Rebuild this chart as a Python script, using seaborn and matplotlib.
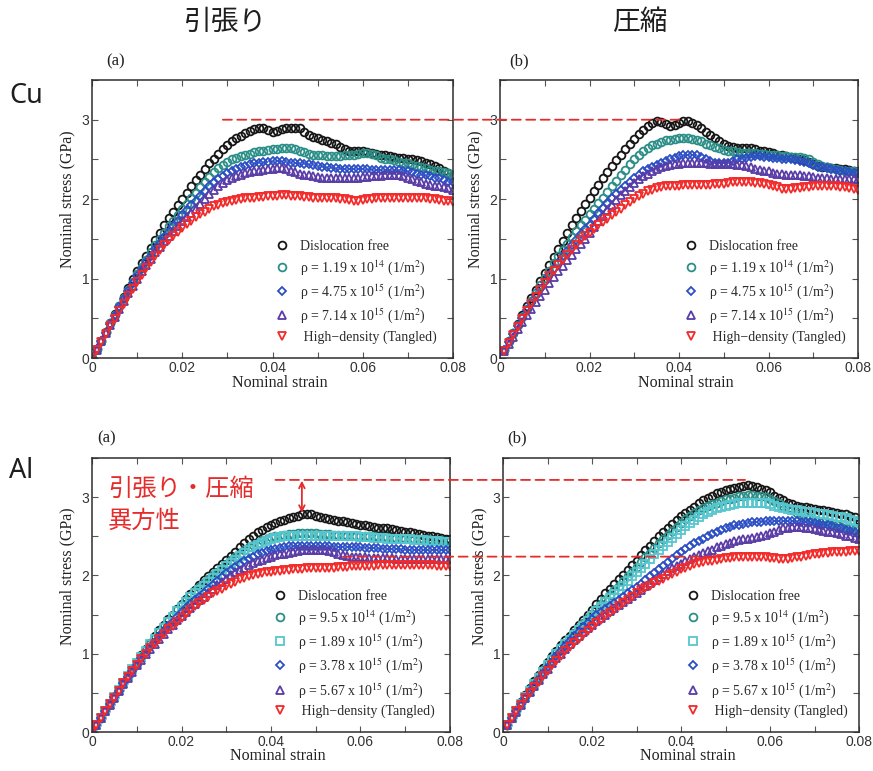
import numpy as np
import matplotlib
matplotlib.use("Agg")
import matplotlib.pyplot as plt
from matplotlib.patches import ConnectionPatch
from matplotlib.ticker import FixedLocator, MultipleLocator
import seaborn as sns

# ---------------------------------------------------------------------------
# Strain grids (tension curves start at the origin, compression at 0.001)
# ---------------------------------------------------------------------------
strain_tension = np.round(np.arange(81) * 0.001, 3)
strain_compression = np.round(np.arange(1, 81) * 0.001, 3)

# ---------------------------------------------------------------------------
# Cu, tension  (nominal stress in GPa)
# ---------------------------------------------------------------------------
cu_t_free = [0.00, 0.11, 0.22, 0.33, 0.44, 0.55, 0.66, 0.77, 0.88, 0.99,
             1.09, 1.19, 1.29, 1.39, 1.49, 1.58, 1.67, 1.76, 1.84, 1.92,
             2.00, 2.08, 2.16, 2.24, 2.31, 2.38, 2.45, 2.51, 2.57, 2.63,
             2.68, 2.73, 2.77, 2.80, 2.83, 2.86, 2.88, 2.89, 2.89, 2.87,
             2.85, 2.86, 2.88, 2.89, 2.90, 2.90, 2.89, 2.85, 2.81, 2.78,
             2.77, 2.75, 2.73, 2.71, 2.69, 2.66, 2.63, 2.61, 2.60, 2.60,
             2.60, 2.59, 2.58, 2.57, 2.56, 2.55, 2.54, 2.53, 2.52, 2.52,
             2.51, 2.50, 2.49, 2.48, 2.46, 2.44, 2.42, 2.39, 2.36, 2.33,
             2.31]
cu_t_119e14 = [0.00, 0.11, 0.22, 0.33, 0.44, 0.54, 0.65, 0.75, 0.86, 0.96,
               1.06, 1.15, 1.24, 1.33, 1.42, 1.50, 1.58, 1.66, 1.73, 1.80,
               1.87, 1.94, 2.01, 2.08, 2.15, 2.22, 2.28, 2.34, 2.39, 2.43,
               2.47, 2.50, 2.52, 2.54, 2.56, 2.57, 2.59, 2.60, 2.61, 2.62,
               2.63, 2.63, 2.64, 2.64, 2.64, 2.63, 2.61, 2.59, 2.57, 2.56,
               2.55, 2.55, 2.54, 2.54, 2.54, 2.54, 2.55, 2.55, 2.56, 2.57,
               2.58, 2.58, 2.57, 2.55, 2.52, 2.51, 2.50, 2.49, 2.47, 2.46,
               2.45, 2.43, 2.42, 2.40, 2.39, 2.37, 2.36, 2.35, 2.34, 2.33,
               2.31]
cu_t_475e15 = [0.00, 0.11, 0.22, 0.32, 0.43, 0.53, 0.64, 0.74, 0.84, 0.94,
               1.03, 1.12, 1.21, 1.29, 1.37, 1.45, 1.52, 1.59, 1.66, 1.73,
               1.80, 1.86, 1.92, 1.98, 2.04, 2.10, 2.16, 2.21, 2.25, 2.29,
               2.33, 2.36, 2.38, 2.40, 2.42, 2.44, 2.45, 2.46, 2.47, 2.47,
               2.48, 2.48, 2.48, 2.47, 2.46, 2.45, 2.45, 2.44, 2.44, 2.43,
               2.42, 2.41, 2.40, 2.39, 2.39, 2.38, 2.38, 2.38, 2.38, 2.38,
               2.38, 2.38, 2.37, 2.37, 2.37, 2.37, 2.37, 2.37, 2.37, 2.36,
               2.35, 2.34, 2.32, 2.31, 2.30, 2.29, 2.27, 2.26, 2.24, 2.22,
               2.21]
cu_t_714e15 = [0.00, 0.10, 0.21, 0.31, 0.42, 0.52, 0.62, 0.72, 0.82, 0.91,
               1.00, 1.09, 1.17, 1.25, 1.33, 1.40, 1.47, 1.54, 1.60, 1.66,
               1.72, 1.78, 1.83, 1.88, 1.94, 2.00, 2.06, 2.11, 2.16, 2.20,
               2.24, 2.27, 2.29, 2.31, 2.33, 2.34, 2.35, 2.36, 2.37, 2.38,
               2.38, 2.39, 2.39, 2.38, 2.36, 2.34, 2.32, 2.31, 2.30, 2.29,
               2.28, 2.27, 2.26, 2.26, 2.26, 2.26, 2.26, 2.26, 2.27, 2.27,
               2.28, 2.28, 2.29, 2.29, 2.29, 2.30, 2.30, 2.31, 2.31, 2.29,
               2.27, 2.25, 2.23, 2.21, 2.19, 2.18, 2.17, 2.16, 2.15, 2.14,
               2.11]
cu_t_tangled = [0.00, 0.10, 0.20, 0.30, 0.40, 0.49, 0.59, 0.68, 0.78, 0.87,
                0.96, 1.05, 1.13, 1.21, 1.29, 1.36, 1.42, 1.48, 1.54, 1.59,
                1.64, 1.69, 1.73, 1.77, 1.81, 1.84, 1.88, 1.91, 1.93, 1.95,
                1.97, 1.98, 1.99, 2.00, 2.01, 2.02, 2.02, 2.03, 2.03, 2.04,
                2.04, 2.04, 2.05, 2.05, 2.04, 2.04, 2.04, 2.03, 2.03, 2.02,
                2.02, 2.02, 2.02, 2.01, 2.01, 2.00, 2.00, 1.99, 1.98, 1.98,
                1.99, 2.00, 2.00, 2.01, 2.01, 2.01, 2.01, 2.01, 2.02, 2.02,
                2.02, 2.02, 2.02, 2.01, 2.01, 2.00, 2.00, 1.99, 1.98, 1.98,
                1.97]

# ---------------------------------------------------------------------------
# Cu, compression
# ---------------------------------------------------------------------------
cu_c_free = [0.10, 0.21, 0.32, 0.43, 0.54, 0.65, 0.76, 0.86, 0.97, 1.07,
             1.17, 1.27, 1.37, 1.47, 1.57, 1.67, 1.76, 1.85, 1.94, 2.02,
             2.10, 2.18, 2.26, 2.34, 2.42, 2.49, 2.56, 2.63, 2.70, 2.76,
             2.82, 2.87, 2.92, 2.96, 2.98, 2.97, 2.94, 2.92, 2.93, 2.96,
             2.98, 2.98, 2.96, 2.93, 2.89, 2.85, 2.81, 2.77, 2.73, 2.70,
             2.67, 2.66, 2.65, 2.65, 2.65, 2.64, 2.63, 2.61, 2.60, 2.59,
             2.58, 2.56, 2.55, 2.54, 2.53, 2.52, 2.51, 2.49, 2.47, 2.44,
             2.42, 2.40, 2.40, 2.39, 2.39, 2.38, 2.38, 2.37, 2.36, 2.35]
cu_c_119e14 = [0.10, 0.21, 0.31, 0.42, 0.52, 0.62, 0.72, 0.82, 0.92, 1.01,
               1.10, 1.19, 1.28, 1.36, 1.44, 1.52, 1.60, 1.67, 1.74, 1.81,
               1.88, 1.95, 2.02, 2.09, 2.16, 2.23, 2.30, 2.37, 2.44, 2.50,
               2.56, 2.61, 2.65, 2.68, 2.70, 2.72, 2.74, 2.75, 2.76, 2.77,
               2.77, 2.77, 2.76, 2.75, 2.73, 2.70, 2.68, 2.66, 2.64, 2.62,
               2.61, 2.60, 2.59, 2.58, 2.58, 2.58, 2.58, 2.57, 2.57, 2.56,
               2.55, 2.55, 2.54, 2.54, 2.53, 2.53, 2.53, 2.52, 2.50, 2.47,
               2.44, 2.42, 2.40, 2.39, 2.38, 2.37, 2.36, 2.36, 2.35, 2.34]
cu_c_475e15 = [0.10, 0.20, 0.30, 0.40, 0.50, 0.60, 0.69, 0.78, 0.87, 0.96,
               1.04, 1.12, 1.20, 1.28, 1.35, 1.42, 1.49, 1.56, 1.62, 1.68,
               1.75, 1.82, 1.89, 1.95, 2.01, 2.07, 2.12, 2.17, 2.22, 2.27,
               2.31, 2.35, 2.38, 2.41, 2.43, 2.46, 2.48, 2.50, 2.52, 2.54,
               2.55, 2.56, 2.56, 2.55, 2.53, 2.50, 2.48, 2.46, 2.45, 2.45,
               2.46, 2.48, 2.50, 2.51, 2.52, 2.53, 2.54, 2.54, 2.53, 2.53,
               2.52, 2.52, 2.51, 2.50, 2.50, 2.49, 2.48, 2.47, 2.45, 2.43,
               2.41, 2.40, 2.39, 2.38, 2.37, 2.36, 2.35, 2.34, 2.33, 2.33]
cu_c_714e15 = [0.09, 0.18, 0.27, 0.36, 0.45, 0.54, 0.62, 0.70, 0.78, 0.86,
               0.94, 1.02, 1.09, 1.16, 1.23, 1.30, 1.37, 1.43, 1.50, 1.57,
               1.65, 1.72, 1.79, 1.86, 1.93, 1.99, 2.05, 2.10, 2.15, 2.20,
               2.25, 2.29, 2.32, 2.35, 2.38, 2.40, 2.42, 2.43, 2.44, 2.44,
               2.45, 2.45, 2.45, 2.45, 2.45, 2.45, 2.44, 2.44, 2.44, 2.44,
               2.44, 2.44, 2.43, 2.43, 2.42, 2.40, 2.38, 2.37, 2.36, 2.35,
               2.33, 2.32, 2.32, 2.31, 2.31, 2.30, 2.30, 2.29, 2.29, 2.28,
               2.27, 2.26, 2.26, 2.25, 2.25, 2.25, 2.25, 2.25, 2.25, 2.25]
cu_c_tangled = [0.09, 0.19, 0.29, 0.39, 0.49, 0.59, 0.68, 0.77, 0.86, 0.95,
                1.03, 1.10, 1.17, 1.24, 1.30, 1.36, 1.42, 1.48, 1.53, 1.58,
                1.63, 1.67, 1.71, 1.75, 1.80, 1.84, 1.88, 1.92, 1.96, 2.00,
                2.04, 2.07, 2.10, 2.12, 2.14, 2.15, 2.16, 2.17, 2.17, 2.17,
                2.18, 2.18, 2.18, 2.18, 2.18, 2.18, 2.18, 2.19, 2.19, 2.19,
                2.20, 2.21, 2.22, 2.22, 2.22, 2.21, 2.20, 2.20, 2.19, 2.18,
                2.16, 2.15, 2.13, 2.13, 2.13, 2.14, 2.14, 2.15, 2.15, 2.16,
                2.16, 2.17, 2.17, 2.16, 2.16, 2.15, 2.15, 2.14, 2.13, 2.11]

# ---------------------------------------------------------------------------
# Al, tension
# ---------------------------------------------------------------------------
al_t_free = [0.00, 0.09, 0.18, 0.27, 0.36, 0.45, 0.54, 0.63, 0.72, 0.81,
             0.90, 0.98, 1.06, 1.14, 1.22, 1.30, 1.37, 1.44, 1.50, 1.57,
             1.64, 1.70, 1.76, 1.82, 1.88, 1.94, 1.99, 2.05, 2.10, 2.15,
             2.20, 2.25, 2.30, 2.36, 2.41, 2.46, 2.50, 2.55, 2.58, 2.62,
             2.65, 2.67, 2.69, 2.71, 2.73, 2.75, 2.76, 2.78, 2.79, 2.78,
             2.76, 2.74, 2.73, 2.72, 2.71, 2.70, 2.69, 2.68, 2.67, 2.66,
             2.65, 2.64, 2.63, 2.62, 2.61, 2.61, 2.60, 2.59, 2.58, 2.57,
             2.56, 2.55, 2.54, 2.53, 2.52, 2.51, 2.50, 2.49, 2.48, 2.47,
             2.46]
al_t_95e14 = [0.00, 0.09, 0.18, 0.27, 0.36, 0.45, 0.54, 0.63, 0.72, 0.81,
              0.89, 0.97, 1.05, 1.13, 1.20, 1.28, 1.35, 1.42, 1.49, 1.56,
              1.62, 1.68, 1.74, 1.80, 1.85, 1.90, 1.95, 2.00, 2.05, 2.10,
              2.15, 2.20, 2.24, 2.28, 2.32, 2.36, 2.39, 2.42, 2.45, 2.47,
              2.49, 2.50, 2.51, 2.52, 2.53, 2.53, 2.54, 2.54, 2.54, 2.54,
              2.54, 2.53, 2.53, 2.53, 2.52, 2.52, 2.52, 2.51, 2.51, 2.51,
              2.50, 2.50, 2.50, 2.50, 2.49, 2.49, 2.49, 2.48, 2.48, 2.48,
              2.47, 2.47, 2.47, 2.46, 2.46, 2.46, 2.45, 2.45, 2.45, 2.44,
              2.44]
al_t_189e15 = [0.00, 0.09, 0.18, 0.27, 0.36, 0.45, 0.54, 0.63, 0.72, 0.80,
               0.88, 0.96, 1.04, 1.12, 1.19, 1.26, 1.33, 1.40, 1.47, 1.54,
               1.60, 1.66, 1.72, 1.77, 1.82, 1.87, 1.92, 1.97, 2.02, 2.07,
               2.12, 2.16, 2.20, 2.25, 2.29, 2.33, 2.36, 2.39, 2.42, 2.44,
               2.46, 2.48, 2.49, 2.50, 2.51, 2.51, 2.51, 2.51, 2.51, 2.51,
               2.51, 2.51, 2.51, 2.51, 2.51, 2.51, 2.50, 2.50, 2.50, 2.50,
               2.49, 2.49, 2.49, 2.48, 2.48, 2.48, 2.47, 2.47, 2.47, 2.46,
               2.46, 2.46, 2.45, 2.45, 2.45, 2.44, 2.44, 2.44, 2.43, 2.43,
               2.43]
al_t_378e15 = [0.00, 0.09, 0.18, 0.27, 0.36, 0.45, 0.53, 0.62, 0.70, 0.78,
               0.86, 0.94, 1.01, 1.08, 1.15, 1.22, 1.29, 1.35, 1.41, 1.47,
               1.53, 1.58, 1.63, 1.68, 1.73, 1.78, 1.83, 1.88, 1.93, 1.98,
               2.03, 2.07, 2.11, 2.15, 2.18, 2.21, 2.24, 2.27, 2.29, 2.31,
               2.33, 2.34, 2.35, 2.36, 2.37, 2.37, 2.37, 2.37, 2.37, 2.37,
               2.37, 2.37, 2.37, 2.37, 2.36, 2.36, 2.36, 2.36, 2.36, 2.36,
               2.36, 2.35, 2.35, 2.35, 2.35, 2.34, 2.34, 2.34, 2.34, 2.34,
               2.33, 2.33, 2.33, 2.33, 2.33, 2.33, 2.32, 2.32, 2.32, 2.32,
               2.32]
al_t_567e15 = [0.00, 0.09, 0.18, 0.27, 0.35, 0.44, 0.52, 0.61, 0.69, 0.77,
               0.85, 0.92, 0.99, 1.06, 1.13, 1.19, 1.25, 1.31, 1.37, 1.43,
               1.48, 1.53, 1.58, 1.63, 1.68, 1.73, 1.78, 1.83, 1.88, 1.92,
               1.96, 2.00, 2.04, 2.07, 2.10, 2.13, 2.16, 2.18, 2.20, 2.22,
               2.24, 2.26, 2.27, 2.28, 2.29, 2.30, 2.31, 2.32, 2.32, 2.33,
               2.33, 2.33, 2.32, 2.31, 2.30, 2.28, 2.26, 2.25, 2.24, 2.23,
               2.23, 2.23, 2.22, 2.22, 2.22, 2.22, 2.22, 2.22, 2.21, 2.21,
               2.21, 2.21, 2.21, 2.21, 2.21, 2.21, 2.21, 2.21, 2.21, 2.21,
               2.21]
al_t_tangled = [0.00, 0.09, 0.18, 0.27, 0.36, 0.44, 0.53, 0.62, 0.70, 0.78,
                0.86, 0.93, 1.00, 1.07, 1.13, 1.19, 1.25, 1.31, 1.36, 1.41,
                1.46, 1.51, 1.56, 1.61, 1.65, 1.69, 1.73, 1.77, 1.80, 1.83,
                1.86, 1.89, 1.92, 1.95, 1.97, 1.99, 2.01, 2.02, 2.03, 2.04,
                2.05, 2.06, 2.06, 2.07, 2.07, 2.08, 2.08, 2.08, 2.09, 2.09,
                2.09, 2.10, 2.10, 2.10, 2.10, 2.11, 2.11, 2.11, 2.12, 2.12,
                2.12, 2.12, 2.12, 2.12, 2.13, 2.13, 2.13, 2.13, 2.13, 2.13,
                2.13, 2.13, 2.13, 2.13, 2.13, 2.13, 2.13, 2.12, 2.12, 2.12,
                2.12]

# ---------------------------------------------------------------------------
# Al, compression
# ---------------------------------------------------------------------------
al_c_free = [0.09, 0.19, 0.28, 0.38, 0.47, 0.56, 0.65, 0.73, 0.82, 0.90,
             0.97, 1.04, 1.11, 1.17, 1.23, 1.30, 1.37, 1.43, 1.50, 1.56,
             1.63, 1.70, 1.77, 1.83, 1.89, 1.95, 2.01, 2.07, 2.13, 2.19,
             2.26, 2.32, 2.38, 2.44, 2.50, 2.56, 2.61, 2.66, 2.71, 2.76,
             2.80, 2.84, 2.88, 2.92, 2.96, 2.99, 3.02, 3.05, 3.07, 3.09,
             3.11, 3.12, 3.13, 3.14, 3.15, 3.14, 3.13, 3.11, 3.09, 3.06,
             3.02, 2.99, 2.96, 2.93, 2.91, 2.89, 2.88, 2.87, 2.86, 2.85,
             2.84, 2.83, 2.82, 2.81, 2.80, 2.79, 2.78, 2.76, 2.74, 2.71]
al_c_95e14 = [0.09, 0.18, 0.27, 0.37, 0.46, 0.55, 0.63, 0.71, 0.79, 0.87,
              0.94, 1.01, 1.08, 1.14, 1.20, 1.26, 1.33, 1.39, 1.45, 1.51,
              1.57, 1.63, 1.69, 1.75, 1.81, 1.87, 1.93, 1.99, 2.05, 2.11,
              2.17, 2.23, 2.29, 2.35, 2.41, 2.47, 2.52, 2.57, 2.62, 2.67,
              2.72, 2.76, 2.80, 2.83, 2.86, 2.89, 2.91, 2.93, 2.95, 2.97,
              2.98, 2.99, 3.01, 3.02, 3.03, 3.03, 3.02, 3.01, 3.00, 2.98,
              2.95, 2.92, 2.89, 2.86, 2.83, 2.80, 2.77, 2.75, 2.73, 2.71,
              2.69, 2.68, 2.66, 2.65, 2.64, 2.62, 2.61, 2.60, 2.59, 2.58]
al_c_189e15 = [0.09, 0.18, 0.27, 0.36, 0.45, 0.53, 0.61, 0.69, 0.77, 0.85,
               0.92, 0.99, 1.06, 1.12, 1.18, 1.24, 1.30, 1.36, 1.42, 1.48,
               1.54, 1.60, 1.66, 1.71, 1.76, 1.81, 1.87, 1.93, 1.99, 2.05,
               2.10, 2.15, 2.21, 2.27, 2.33, 2.38, 2.43, 2.48, 2.53, 2.58,
               2.63, 2.67, 2.71, 2.75, 2.78, 2.81, 2.84, 2.86, 2.88, 2.89,
               2.90, 2.91, 2.92, 2.92, 2.93, 2.93, 2.93, 2.93, 2.93, 2.91,
               2.89, 2.87, 2.86, 2.85, 2.84, 2.83, 2.82, 2.81, 2.81, 2.80,
               2.79, 2.78, 2.77, 2.76, 2.75, 2.74, 2.73, 2.71, 2.69, 2.67]
al_c_378e15 = [0.09, 0.18, 0.27, 0.36, 0.44, 0.52, 0.60, 0.68, 0.76, 0.83,
               0.90, 0.97, 1.04, 1.10, 1.16, 1.22, 1.28, 1.34, 1.39, 1.44,
               1.49, 1.53, 1.57, 1.61, 1.65, 1.69, 1.73, 1.77, 1.81, 1.85,
               1.89, 1.94, 1.99, 2.03, 2.08, 2.12, 2.17, 2.21, 2.26, 2.30,
               2.34, 2.38, 2.41, 2.44, 2.47, 2.50, 2.53, 2.56, 2.58, 2.60,
               2.62, 2.64, 2.65, 2.66, 2.67, 2.68, 2.68, 2.68, 2.69, 2.69,
               2.69, 2.69, 2.69, 2.69, 2.69, 2.69, 2.68, 2.68, 2.68, 2.67,
               2.66, 2.65, 2.64, 2.63, 2.61, 2.60, 2.58, 2.57, 2.55, 2.53]
al_c_567e15 = [0.09, 0.18, 0.26, 0.35, 0.43, 0.51, 0.59, 0.67, 0.74, 0.81,
               0.88, 0.94, 1.00, 1.06, 1.12, 1.17, 1.23, 1.28, 1.33, 1.37,
               1.42, 1.46, 1.50, 1.54, 1.58, 1.62, 1.66, 1.70, 1.74, 1.78,
               1.82, 1.86, 1.90, 1.94, 1.98, 2.02, 2.06, 2.09, 2.12, 2.15,
               2.18, 2.21, 2.24, 2.26, 2.29, 2.31, 2.33, 2.36, 2.38, 2.40,
               2.42, 2.44, 2.45, 2.46, 2.47, 2.48, 2.49, 2.50, 2.52, 2.54,
               2.56, 2.58, 2.60, 2.61, 2.62, 2.62, 2.62, 2.61, 2.60, 2.59,
               2.58, 2.57, 2.56, 2.55, 2.54, 2.53, 2.51, 2.50, 2.48, 2.46]
al_c_tangled = [0.09, 0.18, 0.27, 0.35, 0.43, 0.50, 0.57, 0.64, 0.71, 0.78,
                0.85, 0.91, 0.97, 1.03, 1.08, 1.14, 1.19, 1.24, 1.29, 1.34,
                1.39, 1.43, 1.48, 1.52, 1.56, 1.61, 1.65, 1.69, 1.73, 1.77,
                1.81, 1.84, 1.87, 1.90, 1.93, 1.96, 1.99, 2.02, 2.05, 2.08,
                2.10, 2.12, 2.14, 2.16, 2.17, 2.18, 2.19, 2.20, 2.21, 2.22,
                2.22, 2.23, 2.23, 2.23, 2.23, 2.23, 2.23, 2.23, 2.23, 2.22,
                2.22, 2.21, 2.21, 2.21, 2.22, 2.23, 2.24, 2.25, 2.26, 2.27,
                2.28, 2.29, 2.29, 2.30, 2.30, 2.30, 2.30, 2.31, 2.31, 2.31]

# ---------------------------------------------------------------------------
# Legend labels and tick labels
# ---------------------------------------------------------------------------
cu_labels = ["Dislocation free",
             "ρ = 1.19 x 10$^{14}$ (1/m$^{2}$)",
             "ρ = 4.75 x 10$^{15}$ (1/m$^{2}$)",
             "ρ = 7.14 x 10$^{15}$ (1/m$^{2}$)",
             " High\u2212density (Tangled)"]
al_labels = ["Dislocation free",
             "ρ = 9.5 x 10$^{14}$ (1/m$^{2}$)",
             "ρ = 1.89 x 10$^{15}$ (1/m$^{2}$)",
             "ρ = 3.78 x 10$^{15}$ (1/m$^{2}$)",
             "ρ = 5.67 x 10$^{15}$ (1/m$^{2}$)",
             " High\u2212density (Tangled)"]
x_ticks = [0, 0.02, 0.04, 0.06, 0.08]
x_tick_labels = ["0", "0.02", "0.04", "0.06", "0.08"]
y_ticks = [0, 1, 2, 3]
y_tick_labels = ["0", "1", "2", "3"]

# marker styles: (colour, marker, size)
BLACK = ("#161616", "o", 5.6)
TEAL = ("#2b8f88", "o", 5.6)
CYAN = ("#56c6cf", "s", 5.4)
BLUE = ("#2c4ec4", "D", 4.4)
PURPLE = ("#5a3ca6", "^", 5.8)
RED = ("#f22a2a", "v", 5.8)
cu_styles = [BLACK, TEAL, BLUE, PURPLE, RED]
al_styles = [BLACK, TEAL, CYAN, BLUE, PURPLE, RED]

ANNOT_RED = "#e52c2c"

# ---------------------------------------------------------------------------
sns.set_theme(style="ticks")
plt.rcParams["font.family"] = ["Liberation Sans", "DejaVu Sans"]
plt.rcParams["mathtext.fontset"] = "stix"
plt.rcParams["axes.edgecolor"] = "#2e2e2e"
plt.rcParams["axes.linewidth"] = 1.1

W, H = 873, 771
fig = plt.figure(figsize=(W / 100, H / 100), dpi=100)
fig.patch.set_facecolor("white")


def px_axes(left, top, right, bottom):
    return fig.add_axes([left / W, 1 - bottom / H, (right - left) / W, (bottom - top) / H])


ax_cu_t = px_axes(92, 80, 453, 358)
ax_cu_c = px_axes(500, 80, 858, 358)
ax_al_t = px_axes(92, 458, 450, 732)
ax_al_c = px_axes(503, 458, 859, 732)

serif = {"family": "Liberation Serif"}


def draw_panel(ax, strain, series, labels, styles, legend_anchor):
    for values, label, (color, marker, size) in zip(series, labels, styles):
        sns.lineplot(x=strain, y=values, ax=ax, color=color, marker=marker,
                     linestyle="", markersize=size, markerfacecolor="none",
                     markeredgecolor=color, markeredgewidth=1.3,
                     estimator=None, sort=False, label=label)
    ax.set_xlim(0, 0.08)
    ax.set_ylim(0, 3.5)
    ax.xaxis.set_major_locator(FixedLocator(x_ticks))
    ax.xaxis.set_minor_locator(MultipleLocator(0.01))
    ax.set_xticklabels(x_tick_labels)
    ax.yaxis.set_major_locator(FixedLocator(y_ticks))
    ax.yaxis.set_minor_locator(MultipleLocator(0.5))
    ax.set_yticklabels(y_tick_labels)
    ax.tick_params(which="both", direction="in", top=True, right=True,
                   length=4, width=0.8, color="#555555")
    ax.tick_params(axis="x", labelsize=10, labelcolor="#333333", pad=2.5)
    ax.tick_params(axis="y", labelsize=10, labelcolor="#333333", pad=2.0)
    ax.set_xlabel("Nominal strain", fontsize=11.5, color="#222222", **serif)
    ax.set_ylabel("Nominal stress (GPa)", fontsize=11.5, color="#222222", **serif)
    ax.xaxis.set_label_coords(0.52, -0.06)
    ax.yaxis.set_label_coords(-0.045, 0.57)
    ax.grid(False)
    leg = ax.legend(loc="lower left", bbox_to_anchor=legend_anchor, frameon=False,
                    prop={"family": "Liberation Serif", "size": 10},
                    handlelength=1.0, handletextpad=0.8, labelspacing=0.38,
                    borderpad=0.0, borderaxespad=0.0)
    for t in leg.get_texts():
        t.set_color("#2a2a2a")


draw_panel(ax_cu_t, strain_tension,
           [cu_t_free, cu_t_119e14, cu_t_475e15, cu_t_714e15, cu_t_tangled],
           cu_labels, cu_styles, (0.507, 0.05))
draw_panel(ax_cu_c, strain_compression,
           [cu_c_free, cu_c_119e14, cu_c_475e15, cu_c_714e15, cu_c_tangled],
           cu_labels, cu_styles, (0.513, 0.05))
draw_panel(ax_al_t, strain_tension,
           [al_t_free, al_t_95e14, al_t_189e15, al_t_378e15, al_t_567e15, al_t_tangled],
           al_labels, al_styles, (0.506, 0.05))
draw_panel(ax_al_c, strain_compression,
           [al_c_free, al_c_95e14, al_c_189e15, al_c_378e15, al_c_567e15, al_c_tangled],
           al_labels, al_styles, (0.513, 0.05))

# panel letters
for (x, y), s in [((116, 61), "(a)"), ((519, 61), "(b)"),
                  ((107, 438), "(a)"), ((517, 438), "(b)")]:
    fig.text(x / W, 1 - y / H, s, ha="center", va="center", fontsize=12,
             color="#222222", family="Liberation Serif")

# column and row headings
cjk = ["Noto Sans CJK JP", "DejaVu Sans"]
fig.text(226 / W, 1 - 22 / H, "引張り", ha="center", va="center",
         fontsize=20, color="#1e1e1e", family=cjk)
fig.text(640 / W, 1 - 22 / H, "圧縮", ha="center", va="center",
         fontsize=20, color="#1e1e1e", family=cjk)
fig.text(9 / W, 1 - 96 / H, "Cu", ha="left", va="center", fontsize=19.5,
         color="#1e1e1e", family=["Noto Sans", "DejaVu Sans"])
fig.text(9 / W, 1 - 471 / H, "Al", ha="left", va="center", fontsize=19.5,
         color="#1e1e1e", family=["Noto Sans", "DejaVu Sans"])

# tension/compression anisotropy annotation
fig.text(108 / W, 1 - 489 / H, "引張り・圧縮", ha="left", va="center",
         fontsize=17.5, color=ANNOT_RED, family=cjk)
fig.text(108 / W, 1 - 521 / H, "異方性", ha="left", va="center",
         fontsize=17.5, color=ANNOT_RED, family=cjk)

dash = (0, (5, 3))
for (axA, xyA), (axB, xyB) in [
        ((ax_cu_t, (0.029, 3.0)), (ax_cu_c, (0.040, 3.0))),
        ((ax_al_t, (0.041, 3.22)), (ax_al_c, (0.0544, 3.22))),
        ((ax_al_t, (0.0561, 2.24)), (ax_al_c, (0.049, 2.24)))]:
    con = ConnectionPatch(xyA=xyA, coordsA="data", axesA=axA,
                          xyB=xyB, coordsB="data", axesB=axB,
                          color=ANNOT_RED, lw=1.3, linestyle=dash, zorder=10)
    fig.add_artist(con)

ax_al_t.annotate("", xy=(0.0469, 2.80), xytext=(0.0469, 3.21),
                 arrowprops=dict(arrowstyle="<->", color=ANNOT_RED, lw=1.3,
                                 shrinkA=0, shrinkB=0, mutation_scale=10))

fig.savefig("out.png", dpi=100, facecolor="white")
